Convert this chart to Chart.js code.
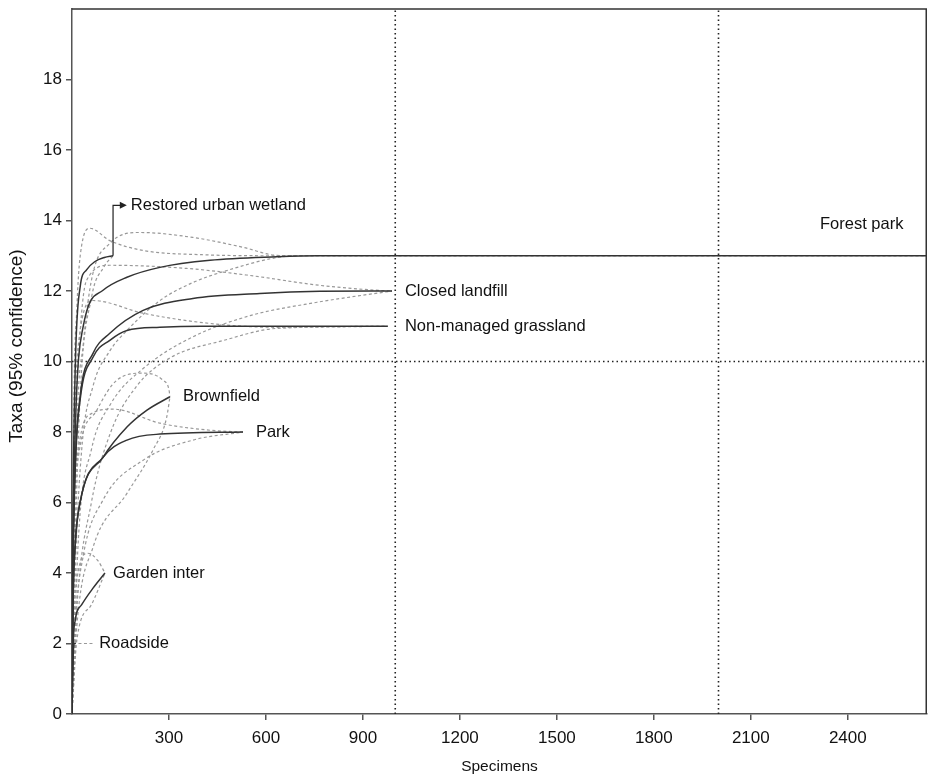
<!DOCTYPE html>
<html>
<head>
<meta charset="utf-8">
<script src="https://cdn.jsdelivr.net/npm/chart.js@4.4.1/dist/chart.umd.min.js"></script>
<style>
  html, body { margin: 0; padding: 0; background: #fff; }
  #wrap { width: 928px; height: 776px; }
</style>
</head>
<body>
<div id="wrap"><canvas id="rarefaction"></canvas></div>
<script>
// rarefaction curves, [specimens, taxa]
const forestPark = [[0,0],[3,4.5],[10,8],[34,10.97],[96,12.02],[170,12.39],[272,12.67],[427,12.87],[634,12.97],[760,13],[2645,13]];
const restoredWetland = [[0,0],[3,5.5],[10,9.8],[25,12.1],[45,12.6],[70,12.83],[100,12.95],[127,13]];
const closedLandfill = [[0,0],[3,4],[10,7],[25,9],[65,10.23],[117,10.8],[220,11.45],[374,11.79],[581,11.93],[767,11.99],[990,12]];
const grassland = [[0,0],[3,4],[10,7],[25,8.9],[65,10.12],[117,10.6],[170,10.88],[272,10.97],[400,11],[977,11]];
const brownfield = [[0,0],[3,3],[10,4.8],[25,6],[96,7.28],[170,8.14],[232,8.62],[303,9]];
const park = [[0,0],[3,3],[10,4.8],[25,6],[96,7.28],[170,7.77],[272,7.94],[529,8]];
const garden = [[0,0],[3,1.8],[10,2.66],[30,3.1],[65,3.57],[102,4]];
const roadside = [[0,0],[3,1.5],[8,2],[12,2]];

// 95% confidence bounds
const forestUpper = [[0,0],[5,8],[15,11.5],[30,13.3],[56,13.78],[117,13.43],[220,13.15],[400,13.03],[640,13],[2645,13]];
const forestLower = [[0,0],[10,4],[30,7.5],[65,9.3],[117,10.3],[170,10.88],[272,11.73],[374,12.24],[479,12.58],[634,12.95],[700,13],[2645,13]];
const wetlandUpper = [[0,0],[15,8],[35,10.5],[62,12.39],[117,13.35],[210,13.66],[374,13.52],[529,13.24],[634,13.01],[700,13]];
const wetlandLower = [[0,0],[8,4],[25,9],[60,11.8],[100,12.7],[127,13]];
const landfillUpper = [[0,0],[5,6],[20,10],[45,12.3],[117,12.73],[355,12.64],[551,12.44],[767,12.16],[962,12.01],[990,12]];
const landfillLower = [[0,0],[20,5],[60,7.5],[120,8.8],[220,9.8],[374,10.7],[551,11.3],[758,11.68],[990,12]];
const grasslandUpper = [[0,0],[5,6],[20,10.5],[65,11.73],[220,11.37],[427,11.08],[634,10.97],[977,11]];
const grasslandLower = [[0,0],[15,3],[60,6],[120,8],[200,9.3],[303,10.1],[470,10.6],[634,10.94],[977,11]];
const brownUpper = [[0,0],[5,5],[20,7.3],[77,8.62],[139,9.47],[220,9.67],[281,9.47],[300,9.2],[303,9]];
const brownLower = [[0,0],[15,2.5],[65,4.73],[170,6.26],[250,7.48],[293,8.42],[303,9]];
const parkUpper = [[0,0],[5,5],[20,7.5],[62,8.53],[127,8.65],[272,8.25],[427,8.05],[529,8]];
const parkLower = [[0,0],[10,2.5],[34,4.45],[96,6.07],[220,7.2],[374,7.77],[529,8]];
const gardenUpper = [[0,0],[5,2.5],[15,3.8],[49,4.56],[80,4.35],[102,4]];
const gardenLower = [[0,0],[15,2.1],[60,3.1],[102,4]];
const roadsideBand = [[3,2],[70,2]];

// dotted reference lines
const refSpecimens = [1000, 2000];
const refTaxa = [10];
const xMax = 2645;
const yMax = 20;
const xTicks = [300, 600, 900, 1200, 1500, 1800, 2100, 2400];
const yTicks = [0, 2, 4, 6, 8, 10, 12, 14, 16, 18];

// site labels
const labelNames = ['Restored urban wetland', 'Forest park', 'Closed landfill', 'Non-managed grassland', 'Brownfield', 'Park', 'Garden inter', 'Roadside'];
const labelX = [182, 2314, 1030, 1030, 343, 569, 127, 84];
const labelY = [14.43, 13.9, 12, 11, 9, 8, 4, 2];

const toPts = arr => arr.map(p => ({x: p[0], y: p[1]}));

function solid(arr) {
  return { data: toPts(arr), borderColor: '#333', borderWidth: 1.5, showLine: true, pointRadius: 0,
           cubicInterpolationMode: 'monotone', fill: false, order: 1 };
}
function dashed(arr) {
  return { data: toPts(arr), borderColor: '#999', borderWidth: 1.2, borderDash: [3, 2.5], showLine: true,
           pointRadius: 0, cubicInterpolationMode: 'monotone', fill: false, order: 2 };
}
function dotted(pts) {
  return { data: pts, borderColor: '#222', borderWidth: 1.6, borderDash: [1.5, 3], showLine: true,
           pointRadius: 0, fill: false, order: 3 };
}

const datasets = [];
refSpecimens.forEach(v => datasets.push(dotted([{x: v, y: 0}, {x: v, y: yMax}])));
refTaxa.forEach(v => datasets.push(dotted([{x: 0, y: v}, {x: xMax, y: v}])));
[forestUpper, forestLower, wetlandUpper, wetlandLower, landfillUpper, landfillLower, grasslandUpper, grasslandLower,
 brownUpper, brownLower, parkUpper, parkLower, gardenUpper, gardenLower, roadsideBand].forEach(a => datasets.push(dashed(a)));
[forestPark, restoredWetland, closedLandfill, grassland, brownfield, park, garden, roadside].forEach(a => datasets.push(solid(a)));

const boxAndLabels = {
  id: 'boxAndLabels',
  afterDatasetsDraw(chart) {
    const {ctx, chartArea: a, scales: {x, y}} = chart;
    ctx.save();
    ctx.strokeStyle = '#333';
    ctx.lineWidth = 1.5;
    ctx.beginPath();
    ctx.moveTo(a.left, a.top);
    ctx.lineTo(a.right - 0.75, a.top);
    ctx.lineTo(a.right - 0.75, a.bottom);
    ctx.stroke();

    ctx.font = '16.5px "Liberation Sans", Arial, sans-serif';
    ctx.fillStyle = '#111';
    ctx.textBaseline = 'middle';
    labelNames.forEach((t, i) => ctx.fillText(t, x.getPixelForValue(labelX[i]), y.getPixelForValue(labelY[i])));

    // arrow from the end of the restored wetland curve to its label
    const end = restoredWetland[restoredWetland.length - 1];
    const x0 = x.getPixelForValue(end[0]), y0 = y.getPixelForValue(end[1]);
    const y1 = y.getPixelForValue(labelY[0]);
    const x1 = x.getPixelForValue(labelX[0]) - 4;
    ctx.strokeStyle = '#222';
    ctx.lineWidth = 1.2;
    ctx.beginPath();
    ctx.moveTo(x0, y0);
    ctx.lineTo(x0, y1);
    ctx.lineTo(x1 - 5, y1);
    ctx.stroke();
    ctx.fillStyle = '#222';
    ctx.beginPath();
    ctx.moveTo(x1, y1);
    ctx.lineTo(x1 - 7, y1 - 3.5);
    ctx.lineTo(x1 - 7, y1 + 3.5);
    ctx.closePath();
    ctx.fill();

    // y axis title
    ctx.translate(17, 346);
    ctx.rotate(-Math.PI / 2);
    ctx.font = '19px "Liberation Sans", Arial, sans-serif';
    ctx.fillStyle = '#111';
    ctx.textAlign = 'center';
    ctx.fillText('Taxa (95% confidence)', 0, 0);
    ctx.restore();
  }
};

const tickFont = { family: '"Liberation Sans", Arial, sans-serif', size: 17 };

new Chart(document.getElementById('rarefaction').getContext('2d'), {
  type: 'scatter',
  data: { datasets: datasets },
  options: {
    responsive: true,
    maintainAspectRatio: false,
    animation: false,
    layout: { padding: { top: 9, right: 1, left: 0, bottom: 0 } },
    plugins: { legend: { display: false }, tooltip: { enabled: false } },
    scales: {
      x: {
        type: 'linear', min: 0, max: xMax,
        border: { color: '#555', width: 1.5 },
        grid: { drawOnChartArea: false, tickLength: 6, color: '#555', lineWidth: 1.5 },
        ticks: { color: '#111', font: tickFont, padding: 8, maxRotation: 0, autoSkip: false,
                 callback: v => String(v) },
        afterBuildTicks: s => { s.ticks = xTicks.map(v => ({ value: v })); },
        title: { display: true, text: 'Specimens', color: '#111',
                 font: { family: '"Liberation Sans", Arial, sans-serif', size: 15.5 }, padding: { top: 4, bottom: 0 } },
        afterFit: s => { s.height = 62; }
      },
      y: {
        type: 'linear', min: 0, max: yMax,
        border: { color: '#555', width: 1.5 },
        grid: { drawOnChartArea: false, tickLength: 6, color: '#555', lineWidth: 1.5 },
        ticks: { color: '#111', font: tickFont, padding: 4, autoSkip: false,
                 callback: v => String(v) },
        afterBuildTicks: s => { s.ticks = yTicks.map(v => ({ value: v })); },
        afterFit: s => { s.width = 72; s.paddingTop = 0; s.paddingBottom = 0; }
      }
    }
  },
  plugins: [boxAndLabels]
});
</script>
</body>
</html>
